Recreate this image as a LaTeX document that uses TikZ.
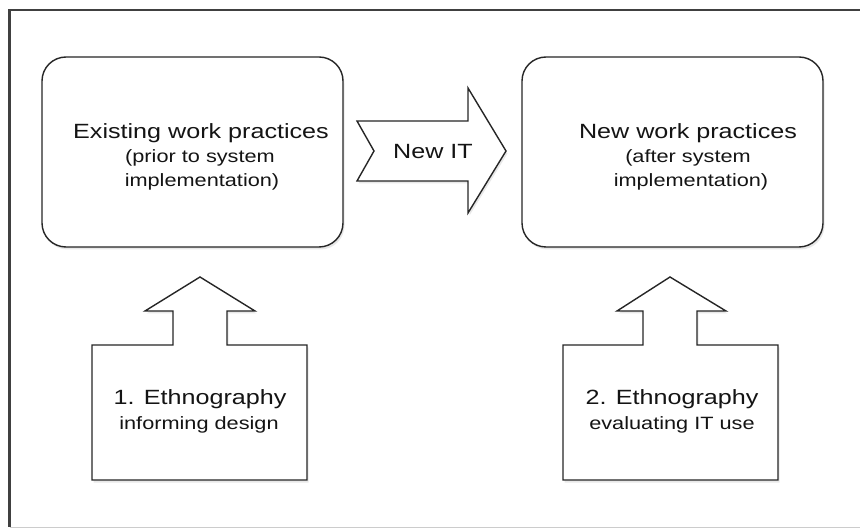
\documentclass[tikz,border=0pt]{standalone}
\usepackage{fontspec}
\setmainfont{Liberation Sans}[FakeStretch=1.22]
\usetikzlibrary{shadows}
\begin{document}
\begin{tikzpicture}[x=1pt,y=1pt,
  shape line/.style={draw=black!85, line width=1.4pt, fill=white, line join=miter,
    drop shadow={opacity=0.18, shadow xshift=1.5pt, shadow yshift=-2.5pt}},
  practice/.style={shape line, rounded corners=24pt, minimum width=301pt, minimum height=190pt, inner sep=0pt},
  big/.style={font=\fontsize{20.6}{24}\selectfont},
  small/.style={font=\fontsize{17.8}{24}\selectfont},
  txt/.style={inner sep=0pt, text=black!92}]
\useasboundingbox (0,0) rectangle (860,528);
% frame
\draw[line width=2.2pt, black!75] (9.5,1.5) -- (9.5,518) -- (870,518);
\draw[line width=1pt, black!20] (9.5,1) -- (870,1);

% work practice boxes
\node[practice] (exist) at (192.5,376) {};
\node[practice] (newwp) at (672.5,376) {};

\node[txt, big] (existA) at (201,395) {Existing work practices};
\node[txt, small] (existB) at (200,370) {(prior to system};
\node[txt, small] (existC) at (202,346) {implementation)};

\node[txt, big] (newA) at (688,395) {New work practices};
\node[txt, small] (newB) at (688,370) {(after system};
\node[txt, small] (newC) at (691,346) {implementation)};

% New IT arrow
\draw[shape line] (357,407) -- (468,407) -- (468,440) -- (506,377) -- (468,315)
  -- (468,347) -- (357,347) -- (374,377) -- cycle;
\node[txt, big] (newit) at (433,376) {New IT};

% Ethnography arrows
\draw[shape line] (92,48) -- (92,183) -- (173,183) -- (173,217) -- (145,217)
  -- (200,251) -- (255,217) -- (227,217) -- (227,183) -- (307,183) -- (307,48) -- cycle;
\node[txt, big] (ethA) at (200,129) {1. Ethnography};
\node[txt, small] (ethB) at (199,103) {informing design};

\draw[shape line] (563,48) -- (563,183) -- (643,183) -- (643,217) -- (617,217)
  -- (670,251) -- (726,217) -- (697,217) -- (697,183) -- (778,183) -- (778,48) -- cycle;
\node[txt, big] (ethC) at (672,129) {2. Ethnography};
\node[txt, small] (ethD) at (672,103) {evaluating IT use};
\end{tikzpicture}
\end{document}
